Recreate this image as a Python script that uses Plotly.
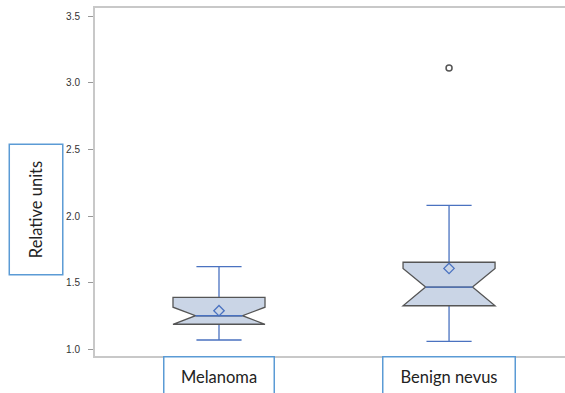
import plotly.graph_objects as go

# Summary statistics per group
groups = ["Melanoma", "Benign nevus"]
q1 = [1.188, 1.327]
median = [1.252, 1.467]
q3 = [1.39, 1.653]
lower_whisker = [1.07, 1.06]
upper_whisker = [1.62, 2.08]
notch_half = [0.064, 0.14]
means = [1.29, 1.607]
outlier_group = ["Benign nevus"]
outlier_value = [3.11]

y_ticks = [1.0, 1.5, 2.0, 2.5, 3.0, 3.5]

BLUE = "#4a72c0"
FILL = "#cad5e6"
EDGE = "#555555"
AXIS = "#c8c8c8"
BOX_W = 0.4
NOTCH_W = 0.245

# anchor for the whisker trace: a level inside the full-width part of the box
# (between the top of the notch and Q3) so the filled box hides its stub
anchor = [(q + m + n) / 2 for q, m, n in zip(q3, median, notch_half)]

fig = go.Figure()

# whiskers and caps (blue)
fig.add_trace(go.Box(
    x=groups, q1=anchor, median=anchor, q3=anchor,
    lowerfence=lower_whisker, upperfence=upper_whisker,
    width=BOX_W * 0.9, whiskerwidth=0.545,
    line=dict(color=BLUE, width=1.3), fillcolor="rgba(0,0,0,0)",
    hoverinfo="skip", showlegend=False,
))

# notched interquartile box
fig.add_trace(go.Box(
    x=groups, q1=q1, median=median, q3=q3,
    lowerfence=q1, upperfence=q3,
    notched=True, notchspan=notch_half, notchwidth=NOTCH_W,
    width=BOX_W, whiskerwidth=0,
    line=dict(color=EDGE, width=1.3), fillcolor=FILL,
    showlegend=False,
))

# median line in blue across the notch waist
fig.add_trace(go.Box(
    x=groups, q1=median, median=median, q3=median,
    lowerfence=median, upperfence=median,
    width=BOX_W * (1 - 2 * NOTCH_W), whiskerwidth=0,
    line=dict(color=BLUE, width=1.3), fillcolor="rgba(0,0,0,0)",
    hoverinfo="skip", showlegend=False,
))

# group means
fig.add_trace(go.Scatter(
    x=groups, y=means, mode="markers",
    marker=dict(symbol="diamond-open", size=8, color=BLUE, line=dict(width=1.3)),
    showlegend=False,
))

# outlier
fig.add_trace(go.Scatter(
    x=outlier_group, y=outlier_value, mode="markers",
    marker=dict(symbol="circle-open", size=6, color=EDGE, line=dict(width=1.5)),
    showlegend=False,
))

label_font = dict(family="Lato, 'Open Sans', sans-serif", size=16.5, color="#222222")
for g, w in zip(groups, [91, 113]):
    fig.add_annotation(
        x=g, xref="x", y=0, yref="paper", yanchor="top", yshift=0,
        text=g, showarrow=False, font=label_font,
        width=w, height=40, valign="top", align="center",
        bordercolor="#5b9bd5", borderwidth=1.5, borderpad=9,
        bgcolor="white",
    )

fig.add_annotation(
    x=-0.1255, xref="paper", xanchor="center", y=0.421, yref="paper", yanchor="middle",
    text="Relative units", textangle=-90, showarrow=False, font=label_font,
    width=113, height=36, valign="middle", align="center",
    bordercolor="#5b9bd5", borderwidth=1.5, borderpad=8,
    bgcolor="white",
)

fig.update_layout(
    width=565, height=393,
    margin=dict(l=95, r=0, t=8, b=37),
    paper_bgcolor="white", plot_bgcolor="white",
    boxmode="overlay",
    xaxis=dict(
        type="category", range=[-0.539, 1.504],
        showticklabels=False, ticks="", showgrid=False, zeroline=False,
        showline=True, linecolor=AXIS, linewidth=2, mirror=True,
    ),
    yaxis=dict(
        range=[0.95, 3.56], tickvals=y_ticks, tickformat=".1f",
        ticks="outside", ticklen=5, tickcolor="#999999", tickwidth=1,
        ticklabelstandoff=6,
        tickfont=dict(family="Arial, 'Liberation Sans', sans-serif", size=10, color="#333333"),
        showgrid=False, zeroline=False,
        showline=True, linecolor=AXIS, linewidth=2,
    ),
)

fig.write_html("out.html")
